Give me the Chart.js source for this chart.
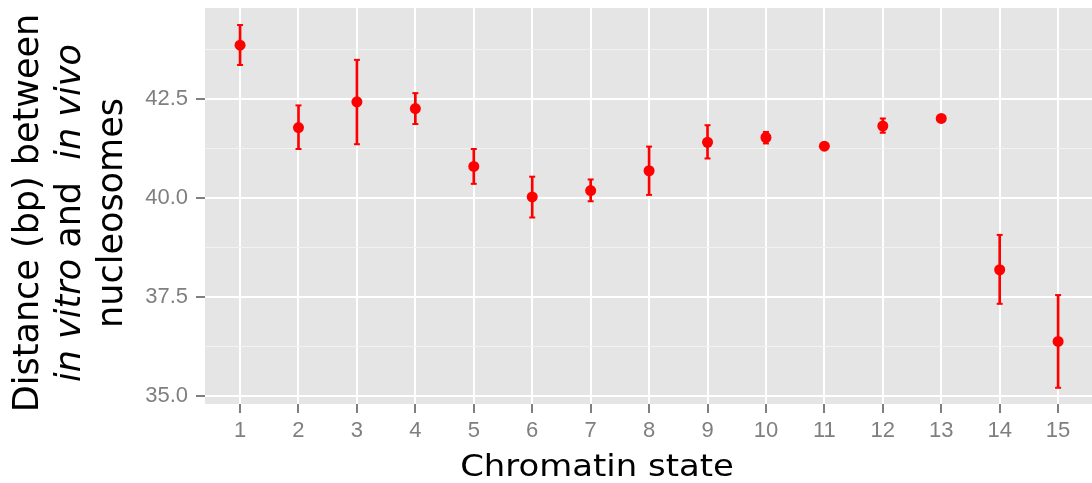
<!DOCTYPE html>
<html>
<head>
<meta charset="utf-8">
<script src="https://cdn.jsdelivr.net/npm/chart.js@4.4.1/dist/chart.umd.min.js"></script>
<style>
  html, body { margin: 0; padding: 0; background: #ffffff; }
  #wrap { position: relative; width: 1092px; height: 483px; }
</style>
</head>
<body>
<div id="wrap"><canvas id="c"></canvas></div>
<script>
// ---- data ----
const states = [1, 2, 3, 4, 5, 6, 7, 8, 9, 10, 11, 12, 13, 14, 15];
const means  = [43.86, 41.78, 42.43, 42.26, 40.80, 40.03, 40.19, 40.69, 41.41, 41.53, 41.31, 41.82, 42.01, 38.19, 36.38];
const upper  = [44.37, 42.34, 43.49, 42.65, 41.24, 40.54, 40.47, 41.30, 41.84, 41.67, 41.36, 42.01, 42.05, 39.07, 37.55];
const lower  = [43.36, 41.24, 41.36, 41.87, 40.36, 39.51, 39.92, 40.08, 41.00, 41.38, 41.26, 41.65, 41.97, 37.33, 35.21];
const yMajorTicks = [35, 37.5, 40, 42.5];
const yMinorTicks = [36.25, 38.75, 41.25, 43.75];
const xTitle = 'Chromatin state';
const yTitleLines = [
  [{ t: 'Distance (bp) between', i: false }],
  [{ t: 'in vitro', i: true }, { t: ' and  ', i: false }, { t: 'in vivo', i: true }],
  [{ t: 'nucleosomes', i: false }]
];

const RED = '#ff0000';
const GREY_TXT = '#7f7f7f';
const TITLE_FONT = '"DejaVu Sans", sans-serif';

const panelBg = {
  id: 'panelBg',
  beforeDraw(chart) {
    const { ctx, chartArea: a } = chart;
    ctx.save();
    ctx.fillStyle = '#e5e5e5';
    ctx.fillRect(a.left, a.top, a.right - a.left, a.bottom - a.top);
    ctx.restore();
  }
};

const titles = {
  id: 'titles',
  afterDraw(chart) {
    const ctx = chart.ctx;
    ctx.save();
    ctx.fillStyle = '#000000';
    // x title
    ctx.save();
    ctx.translate(597, 476);
    ctx.scale(1.13, 1);
    ctx.font = '30px ' + TITLE_FONT;
    ctx.textAlign = 'center';
    ctx.textBaseline = 'alphabetic';
    ctx.fillText(xTitle, 0, 0);
    ctx.restore();
    // y title (rotated, mixed italic)
    const baselines = [37.5, 80, 122];
    const size = 35;
    yTitleLines.forEach((segs, li) => {
      ctx.save();
      ctx.translate(baselines[li], 213);
      ctx.rotate(-Math.PI / 2);
      ctx.textAlign = 'left';
      ctx.textBaseline = 'alphabetic';
      let total = 0;
      const widths = segs.map(s => {
        ctx.font = (s.i ? 'italic ' : '') + size + 'px ' + TITLE_FONT;
        const w = ctx.measureText(s.t).width;
        total += w;
        return w;
      });
      let x = -total / 2;
      segs.forEach((s, k) => {
        ctx.font = (s.i ? 'italic ' : '') + size + 'px ' + TITLE_FONT;
        ctx.fillText(s.t, x, 0);
        x += widths[k];
      });
      ctx.restore();
    });
    ctx.restore();
  }
};

const pts = states.map((s, k) => ({ x: s, y: means[k] }));
const bars = states.map((s, k) => ({ x: s, y: [lower[k], upper[k]] }));
const capsHi = states.map((s, k) => ({ x: s, y: upper[k] }));
const capsLo = states.map((s, k) => ({ x: s, y: lower[k] }));

const isMinor = v => yMinorTicks.some(m => Math.abs(m - v) < 1e-6);

new Chart(document.getElementById('c'), {
  type: 'scatter',
  data: {
    datasets: [
      { type: 'bar', data: bars, backgroundColor: RED, borderWidth: 0, barThickness: 2, order: 3 },
      { type: 'scatter', data: capsHi, pointStyle: 'line', pointRadius: 3, borderColor: RED, borderWidth: 2, pointHoverRadius: 3, order: 2 },
      { type: 'scatter', data: capsLo, pointStyle: 'line', pointRadius: 3, borderColor: RED, borderWidth: 2, pointHoverRadius: 3, order: 2 },
      { type: 'scatter', data: pts, pointStyle: 'circle', pointRadius: 5.5, pointBackgroundColor: RED, pointBorderWidth: 0, pointHoverRadius: 5.5, order: 1 }
    ]
  },
  options: {
    responsive: true,
    maintainAspectRatio: false,
    animation: false,
    events: [],
    layout: { autoPadding: false, padding: { top: 8, right: 0, left: 0, bottom: 0 } },
    plugins: { legend: { display: false }, tooltip: { enabled: false }, title: { display: false } },
    scales: {
      x: {
        type: 'linear',
        offset: false,
        min: 0.4,
        max: 15.58,
        afterBuildTicks(scale) { scale.ticks = states.map(v => ({ value: v })); },
        afterFit(scale) { scale.height = 79; scale.paddingLeft = 0; scale.paddingRight = 0; },
        border: { display: false },
        grid: { offset: false, color: '#ffffff', lineWidth: 2, drawTicks: true, tickLength: 9, tickColor: GREY_TXT, tickWidth: 2 },
        ticks: {
          padding: 5,
          color: GREY_TXT,
          font: { family: '"Liberation Sans", Arial, sans-serif', size: 22 },
          maxRotation: 0,
          autoSkip: false,
          callback: v => String(v)
        }
      },
      y: {
        type: 'linear',
        min: 34.8,
        max: 44.8,
        afterBuildTicks(scale) {
          scale.ticks = yMajorTicks.concat(yMinorTicks).sort((a, b) => a - b).map(v => ({ value: v }));
        },
        afterFit(scale) { scale.width = 205; scale.paddingTop = 0; scale.paddingBottom = 0; },
        border: { display: false },
        grid: {
          color: ctx => (ctx.tick && isMinor(ctx.tick.value)) ? '#f2f2f2' : '#ffffff',
          lineWidth: ctx => (ctx.tick && isMinor(ctx.tick.value)) ? 1 : 2,
          drawTicks: true,
          tickLength: 9,
          tickColor: ctx => (ctx.tick && isMinor(ctx.tick.value)) ? 'rgba(0,0,0,0)' : GREY_TXT,
          tickWidth: 2
        },
        ticks: {
          padding: 8,
          color: GREY_TXT,
          font: { family: '"Liberation Sans", Arial, sans-serif', size: 22 },
          autoSkip: false,
          callback: v => isMinor(v) ? '' : v.toFixed(1)
        }
      }
    }
  },
  plugins: [panelBg, titles]
});
</script>
</body>
</html>
